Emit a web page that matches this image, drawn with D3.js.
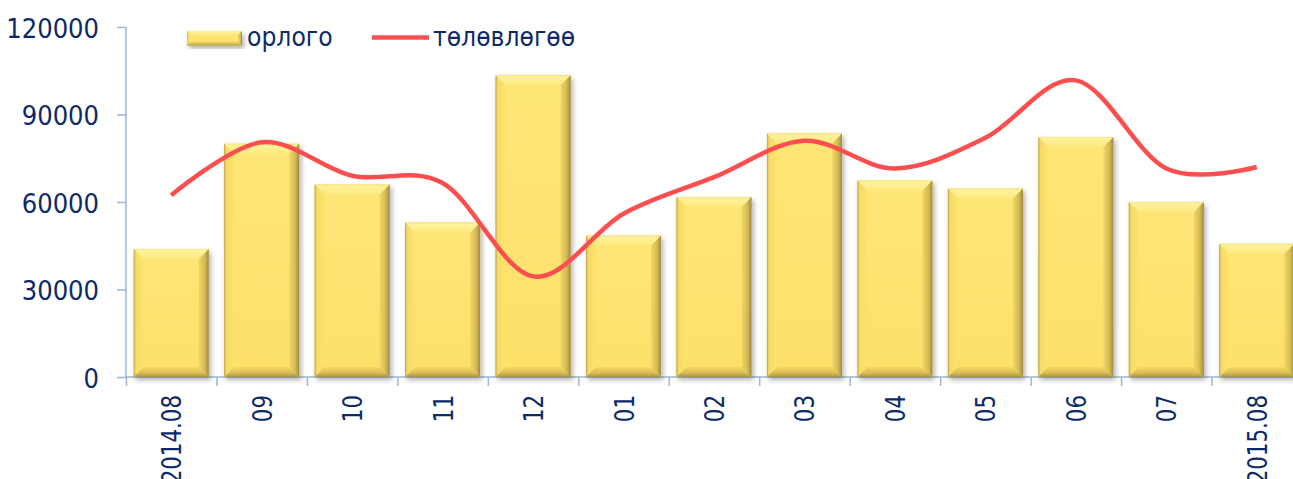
<!DOCTYPE html>
<html>
<head>
<meta charset="utf-8">
<script src="https://cdn.jsdelivr.net/npm/d3@7"></script>
<style>
	body { margin: 0; background: #fff; overflow: hidden; }
	svg { display: block; }
	text { font-family: "DejaVu Sans Condensed", "DejaVu Sans", sans-serif; fill: #0d2a68; }
</style>
</head>
<body>
<svg id="chart" width="1293" height="479"></svg>
<script>
// data
const months = ["2014.08", "09", "10", "11", "12", "01", "02", "03", "04", "05", "06", "07", "2015.08"];
const orlogo = [43900, 80000, 66000, 53000, 103500, 48500, 61700, 83500, 67400, 64600, 82300, 60000, 45700];
const tolovlogoo = [62300, 80500, 69000, 66500, 34500, 56000, 68500, 81000, 71500, 82000, 101700, 71500, 72000];
const yTicks = [0, 30000, 60000, 90000, 120000];
const seriesNames = ["орлого", "төлөвлөгөө"];

var svg = d3.select("#chart"),
	plotLeft = 126,
	plotRight = 1302,
	plotTop = 27,
	plotBottom = 377,
	fontSize = 27,
	squishX = 0.88,   // rotated month labels
	squishY = 1.0,    // value labels
	squishLegend = 0.97,
	axisColor = "#9db6d9",
	lineColor = "#fb4f4f";

var x = d3.scaleBand()
	.domain(months)
	.range([plotLeft, plotRight])
	.paddingInner(0.17)
	.paddingOuter(0.085);

var edge = d3.scaleLinear()
	.domain([0, months.length])
	.range([plotLeft, plotRight]);

var y = d3.scaleLinear()
	.domain([0, 120000])
	.range([plotBottom, plotTop]);

// gradients + shadow
var defs = svg.append("defs");

function grad(id, x2, y2, stops) {
	let g = defs.append("linearGradient")
		.attr("id", id)
		.attr("x1", 0).attr("y1", 0)
		.attr("x2", x2).attr("y2", y2);
	stops.forEach(function (s) {
		g.append("stop").attr("offset", s[0]).attr("stop-color", s[1]);
	});
}

grad("gFace", 0, 1, [[0, "#fee677"], [1, "#fce06a"]]);
grad("gTop", 0, 1, [[0, "#f6dc6c"], [0.15, "#fff29c"], [1, "#fde97e"]]);
grad("gLeft", 1, 0, [[0, "#b9a04c"], [0.2, "#f6da66"], [1, "#fde36c"]]);
grad("gRight", 1, 0, [[0, "#f4d664"], [0.6, "#d4ba56"], [1, "#9c8842"]]);
grad("gBottom", 0, 1, [[0, "#f6d862"], [0.6, "#d9bd55"], [1, "#a89245"]]);

defs.append("filter")
	.attr("id", "shadow")
	.attr("x", "-10%").attr("y", "-10%")
	.attr("width", "130%").attr("height", "130%")
	.append("feDropShadow")
	.attr("dx", 2).attr("dy", 3)
	.attr("stdDeviation", 2.5)
	.attr("flood-color", "#000")
	.attr("flood-opacity", 0.3);

function bevelBar(g, bx, by, w, h, b) {
	g.append("rect")
		.attr("x", bx).attr("y", by)
		.attr("width", w).attr("height", h)
		.attr("fill", "url(#gFace)");
	let pts = {
		gTop: [[bx, by], [bx + w, by], [bx + w - b, by + b], [bx + b, by + b]],
		gLeft: [[bx, by], [bx + b, by + b], [bx + b, by + h - b], [bx, by + h]],
		gRight: [[bx + w, by], [bx + w, by + h], [bx + w - b, by + h - b], [bx + w - b, by + b]],
		gBottom: [[bx, by + h], [bx + b, by + h - b], [bx + w - b, by + h - b], [bx + w, by + h]]
	};
	Object.keys(pts).forEach(function (k) {
		g.append("polygon")
			.attr("points", pts[k].map(function (p) { return p.join(","); }).join(" "))
			.attr("fill", "url(#" + k + ")");
	});
}

// y axis
var yAxis = svg.append("g")
	.attr("transform", "translate(" + plotLeft + ",0)")
	.call(d3.axisLeft(y).tickValues(yTicks).tickSize(9).tickPadding(0).tickFormat(d3.format("d")));

yAxis.select(".domain").remove();
yAxis.selectAll(".tick line").attr("stroke", axisColor).attr("stroke-width", 1.5);
yAxis.selectAll(".tick text")
	.attr("x", null).attr("dy", null)
	.attr("text-anchor", "end")
	.attr("font-size", fontSize)
	.attr("transform", "translate(-27,10) scale(" + squishY + ",1)");
yAxis.append("line")
	.attr("x1", 0).attr("x2", 0)
	.attr("y1", plotTop).attr("y2", plotBottom)
	.attr("stroke", axisColor).attr("stroke-width", 1.5);

// x axis
var xAxis = svg.append("g")
	.attr("transform", "translate(0," + plotBottom + ")")
	.call(d3.axisBottom(edge).tickValues(d3.range(months.length + 1)).tickSize(9).tickFormat(""));

xAxis.select(".domain").remove();
xAxis.selectAll(".tick line").attr("stroke", axisColor).attr("stroke-width", 1.5);
xAxis.append("line")
	.attr("x1", plotLeft).attr("x2", plotRight)
	.attr("stroke", axisColor).attr("stroke-width", 1.5);

svg.append("g")
	.selectAll("text")
	.data(months)
	.enter().append("text")
	.attr("text-anchor", "end")
	.attr("font-size", fontSize)
	.attr("transform", function (d) {
		return "translate(" + (x(d) + x.bandwidth() / 2 + 10) + ",395) rotate(-90) scale(" + squishX + ",1)";
	})
	.text(function (d) { return d; });

// bars
var bars = svg.append("g").attr("class", "bars");
months.forEach(function (m, i) {
	let g = bars.append("g").attr("filter", "url(#shadow)");
	bevelBar(g, x(m), y(orlogo[i]), x.bandwidth(), y(0) - y(orlogo[i]), 10);
});

// plan line
var line = d3.line()
	.x(function (d, i) { return x(months[i]) + x.bandwidth() / 2; })
	.y(function (d) { return y(d); })
	.curve(d3.curveCardinal.tension(0));

svg.append("path")
	.datum(tolovlogoo)
	.attr("d", line)
	.attr("fill", "none")
	.attr("stroke", lineColor)
	.attr("stroke-width", 4.5)
	.attr("stroke-linecap", "butt");

// legend
var legend = svg.append("g").attr("class", "legend");
bevelBar(legend.append("g").attr("filter", "url(#shadow)"), 187, 31, 55, 14.5, 4);
legend.append("text")
	.attr("font-size", fontSize)
	.attr("transform", "translate(247,46) scale(" + squishLegend + ",1)")
	.text(seriesNames[0]);
legend.append("line")
	.attr("x1", 372).attr("x2", 429)
	.attr("y1", 37.5).attr("y2", 37.5)
	.attr("stroke", lineColor)
	.attr("stroke-width", 4.6);
legend.append("text")
	.attr("font-size", fontSize)
	.attr("transform", "translate(433,46) scale(" + squishLegend + ",1)")
	.text(seriesNames[1]);
</script>
</body>
</html>
